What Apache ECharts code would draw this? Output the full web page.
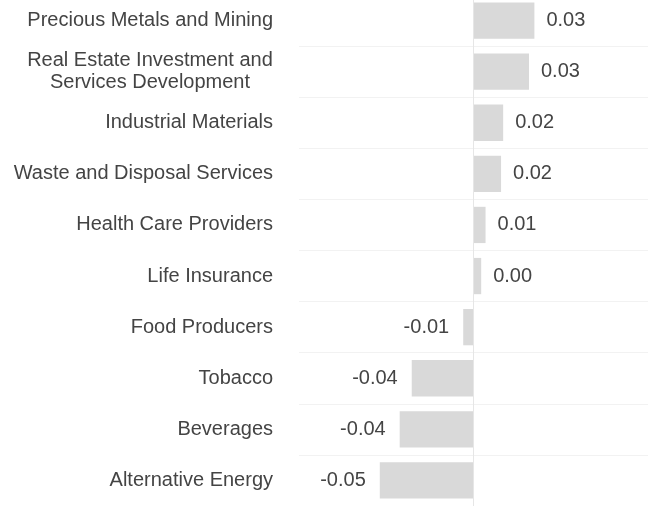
<!DOCTYPE html>
<html>
<head>
<meta charset="utf-8">
<script src="https://cdn.jsdelivr.net/npm/echarts@6/dist/echarts.min.js"></script>
<style>
  html, body { margin: 0; padding: 0; background: #fff; overflow: hidden; }
  #chart { position: relative; top: -5px; width: 648px; height: 511px; }
</style>
</head>
<body>
<div id="chart"></div>
<script>
// categories, top to bottom
const categories = [
    'Precious Metals and Mining',
    'Real Estate Investment and Services Development',
    'Industrial Materials',
    'Waste and Disposal Services',
    'Health Care Providers',
    'Life Insurance',
    'Food Producers',
    'Tobacco',
    'Beverages',
    'Alternative Energy'
];
const values = [0.0349, 0.0318, 0.0170, 0.0158, 0.0069, 0.0044, -0.0059, -0.0354, -0.0423, -0.0537];

const chart = echarts.init(document.getElementById('chart'));

// labels sit outside the bar end
let barData = values.map(v => ({
    value: v,
    label: {
        position: v < 0 ? 'left' : 'right',
        distance: v < 0 ? 14 : 12
    }
}));

chart.setOption({
    animation: false,
    textStyle: { fontFamily: 'Liberation Sans, Arial, sans-serif' },
    grid: { left: 299, right: -1, top: 0, bottom: 0, containLabel: false },
    xAxis: {
        type: 'value',
        min: -0.1,
        max: 0.1,
        show: false
    },
    yAxis: {
        type: 'category',
        data: categories,
        inverse: true,
        axisLine: { show: false },
        axisTick: { show: false },
        splitLine: { show: true, lineStyle: { color: '#f2f2f2', width: 1 } },
        axisLabel: {
            margin: 26,
            fontSize: 20,
            color: '#444',
            formatter: function (name) {
                if (name.indexOf('Real Estate') === 0) {
                    return '{c|Real Estate Investment and}\n{c|Services Development}';
                }
                return name;
            },
            rich: {
                c: { width: 246, align: 'center', fontSize: 20, lineHeight: 22, color: '#444' }
            }
        }
    },
    series: [{
        type: 'bar',
        data: barData,
        barCategoryGap: '29%',
        itemStyle: { color: '#d9d9d9' },
        label: {
            show: true,
            fontSize: 20,
            color: '#444',
            formatter: p => p.value.toFixed(2)
        },
        markLine: {
            silent: true,
            symbol: 'none',
            label: { show: false },
            lineStyle: { color: '#e6e6e6', type: 'solid', width: 1 },
            data: [{ xAxis: 0 }]
        }
    }]
});
</script>
</body>
</html>
